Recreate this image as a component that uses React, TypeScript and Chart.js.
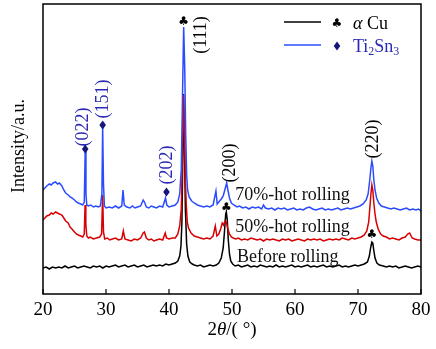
import { useEffect, useRef } from "react";
import { Chart, registerables } from "chart.js";

Chart.register(...registerables);

// ---- data: 2θ (degrees) and intensity (a.u.) ----
const blackTheta = [20.0,20.5,21.0,21.5,22.0,22.5,23.0,23.5,24.0,24.5,25.0,25.5,26.0,26.5,27.0,27.5,28.0,28.5,29.0,29.5,30.0,30.5,31.0,31.5,32.0,32.5,33.0,33.5,34.0,34.5,35.0,35.5,36.0,36.5,37.0,37.5,38.0,38.5,39.0,39.5,40.0,40.5,41.0,41.4,41.7,41.9,42.05,42.18,42.3,42.45,42.6,42.8,43.0,43.3,43.7,44.0,44.5,45.0,45.5,46.0,46.5,47.0,47.5,47.9,48.3,48.6,48.8,49.0,49.1,49.25,49.4,49.6,49.8,50.1,50.5,51.0,51.5,52.0,52.5,53.0,53.5,54.0,54.5,55.0,55.5,56.0,56.5,57.0,57.5,58.0,58.5,59.0,59.5,60.0,60.5,61.0,61.5,62.0,62.5,63.0,63.5,64.0,64.5,65.0,65.5,66.0,66.5,67.0,67.5,68.0,68.5,69.0,69.5,70.0,70.5,71.0,71.5,71.8,72.0,72.2,72.35,72.5,72.7,73.0,73.4,74.0,74.5,75.0,75.5,76.0,76.5,77.0,77.5,78.0,78.5,79.0,79.5,80.0];
const blackInt = [26,27,25,27,26,27,26,28,26,27,28,26,27,28,27,26,28,27,28,26,28,27,28,29,27,28,29,27,28,29,27,28,29,27,28,29,28,29,28,30,29,30,31,33,38,48,72,130,200,150,85,50,38,32,30,29,28,29,27,28,29,28,29,31,36,46,62,80,82,74,55,40,33,30,28,29,27,28,29,27,28,27,29,28,27,28,27,29,27,28,27,28,29,27,28,27,28,29,27,28,27,28,29,27,28,27,28,29,27,28,27,28,29,28,29,30,32,38,46,52,51,44,36,31,29,28,27,28,27,28,26,27,28,27,26,27,28,27];

const redTheta = [20.0,20.3,20.6,21.0,21.3,21.6,22.0,22.3,22.6,23.0,23.3,23.6,24.0,24.3,24.6,25.0,25.3,25.6,26.0,26.3,26.55,26.68,26.8,26.95,27.2,27.5,28.0,28.5,29.0,29.3,29.47,29.6,29.8,30.2,30.6,31.0,31.5,32.0,32.5,32.75,33.0,33.5,34.0,34.5,35.0,35.5,35.9,36.1,36.4,36.8,37.2,37.6,38.0,38.5,39.0,39.4,39.6,40.0,40.5,41.0,41.4,41.7,41.95,42.12,42.3,42.45,42.6,42.75,42.9,43.1,43.5,44.0,44.5,45.0,45.5,46.0,46.5,47.0,47.35,47.6,47.9,48.2,48.45,48.65,48.9,49.1,49.3,49.6,49.9,50.2,50.6,51.0,51.5,52.0,52.5,53.0,53.5,54.0,54.5,55.0,55.5,56.0,56.5,57.0,57.5,58.0,58.5,59.0,59.5,60.0,60.5,61.0,61.5,62.0,62.5,63.0,63.5,64.0,64.5,65.0,65.5,66.0,66.5,67.0,67.5,68.0,68.5,69.0,69.5,70.0,70.5,71.0,71.4,71.7,71.9,72.05,72.2,72.35,72.5,72.7,72.9,73.2,73.6,74.0,74.5,75.0,75.5,76.0,76.5,77.0,77.5,77.9,78.2,78.6,79.0,79.5,80.0];
const redInt = [74,76,78,79,81,80,82,81,80,79,76,73,71,67,65,62,60,59,58,57,60,89,70,58,56,57,55,56,57,60,99,62,55,56,54,55,56,54,55,63,55,54,53,55,54,56,61,62,56,54,55,53,54,55,54,61,56,55,56,56,60,68,85,135,199,165,115,88,72,66,61,58,57,56,55,56,55,58,68,58,60,65,71,69,73,72,66,60,57,56,55,56,54,55,54,56,55,54,55,53,55,54,55,54,53,55,54,55,53,54,55,54,53,55,54,55,54,55,53,54,55,54,55,54,56,55,54,56,55,56,57,59,63,72,88,100,109,104,92,80,72,65,60,58,57,55,56,55,54,56,57,60,61,56,55,54,54];

const blueTheta = [20.0,20.3,20.6,21.0,21.3,21.6,22.0,22.3,22.6,23.0,23.3,23.6,24.0,24.3,24.6,25.0,25.3,25.6,26.0,26.3,26.55,26.7,26.82,26.95,27.2,27.6,28.0,28.4,28.8,29.1,29.35,29.47,29.6,29.75,30.0,30.5,31.0,31.5,32.0,32.5,32.7,32.9,33.3,33.8,34.2,34.6,35.0,35.5,35.9,36.1,36.4,36.8,37.2,37.6,38.0,38.5,39.0,39.45,39.65,40.0,40.5,41.0,41.4,41.7,41.95,42.15,42.33,42.5,42.65,42.8,42.95,43.2,43.6,44.0,44.5,45.0,45.5,46.0,46.5,47.0,47.45,47.65,47.9,48.3,48.6,48.9,49.15,49.35,49.6,49.9,50.3,50.8,51.2,51.7,52.2,52.7,53.2,53.7,54.2,54.7,55.0,55.3,55.8,56.3,56.8,57.3,57.8,58.3,58.8,59.3,59.8,60.3,60.8,61.3,61.8,62.3,62.8,63.3,63.8,64.3,64.8,65.3,65.8,66.3,66.8,67.3,67.8,68.3,68.8,69.3,69.8,70.3,70.8,71.3,71.6,71.85,72.05,72.2,72.35,72.5,72.7,72.95,73.3,73.7,74.2,74.7,75.2,75.7,76.2,76.7,77.2,77.7,78.2,78.7,79.2,79.6,80.0];
const blueInt = [104,106,108,110,109,111,112,110,111,108,104,101,99,97,96,94,92,91,90,89,92,143,100,89,88,89,87,88,87,88,100,167,110,88,86,87,86,88,86,88,104,89,87,86,88,86,87,88,94,92,87,86,88,87,86,88,87,96,89,87,88,89,92,100,125,200,267,225,160,120,104,97,93,91,89,88,87,88,87,89,103,90,92,95,98,105,111,104,96,91,89,87,88,86,87,85,87,86,87,85,89,86,85,86,84,86,85,86,84,85,86,84,85,84,86,87,85,84,85,86,84,85,84,85,86,84,85,86,85,86,87,88,90,94,100,113,126,133,128,115,104,96,91,88,87,86,85,86,85,84,85,86,84,85,84,85,83];

const xTickValues = [20, 30, 40, 50, 60, 70, 80];

// peak annotations (Miller indices), centre of label in (2θ, intensity)
const hklLabels = ["(111)", "(022)", "(151)", "(202)", "(200)", "(220)"];
const hklTheta = [45.1, 26.35, 29.55, 39.65, 49.75, 72.4];
const hklInt = [259, 167, 195, 129, 131, 155];
const hklPhase = ["cu", "ti", "ti", "ti", "cu", "cu"];

// phase markers
const cuMarkTheta = [42.33, 49.1, 72.2];
const cuMarkInt = [272, 86, 59];
const tiMarkTheta = [26.7, 29.47, 39.6];
const tiMarkInt = [145, 169, 102];

// curve labels
const curveLabels = ["70%-hot rolling", "50%-hot rolling", "Before rolling"];
const curveLabelTheta = [50.5, 50.5, 50.8];
const curveLabelInt = [99, 67, 37];

const SERIF = "'Liberation Serif', 'Times New Roman', serif";
const BLUE_TXT = "#2a2ab4";
const NAVY = "#16167a";

function vText(ctx: CanvasRenderingContext2D, s: string, cx: number, cy: number, font: string, color: string) {
  ctx.save();
  ctx.translate(cx, cy);
  ctx.rotate(-Math.PI / 2);
  ctx.font = font;
  ctx.fillStyle = color;
  ctx.textAlign = "center";
  ctx.textBaseline = "middle";
  ctx.fillText(s, 0, 0);
  ctx.restore();
}

function club(ctx: CanvasRenderingContext2D, cx: number, cy: number) {
  ctx.save();
  ctx.font = "12px 'DejaVu Sans'";
  ctx.fillStyle = "#000";
  ctx.textAlign = "center";
  ctx.textBaseline = "middle";
  ctx.fillText("\u2663", cx, cy);
  ctx.restore();
}

function diamond(ctx: CanvasRenderingContext2D, cx: number, cy: number) {
  ctx.save();
  ctx.fillStyle = NAVY;
  ctx.beginPath();
  ctx.moveTo(cx, cy - 4.5);
  ctx.lineTo(cx + 3.3, cy);
  ctx.lineTo(cx, cy + 4.5);
  ctx.lineTo(cx - 3.3, cy);
  ctx.closePath();
  ctx.fill();
  ctx.restore();
}

function runs(ctx: CanvasRenderingContext2D, parts: { t: string; font: string; dy?: number }[], x: number, y: number, color: string, align: "left" | "center") {
  ctx.save();
  ctx.fillStyle = color;
  ctx.textBaseline = "middle";
  ctx.textAlign = "left";
  let total = 0;
  for (const p of parts) { ctx.font = p.font; total += ctx.measureText(p.t).width; }
  let cx = align === "center" ? x - total / 2 : x;
  for (const p of parts) {
    ctx.font = p.font;
    ctx.fillText(p.t, cx, y + (p.dy || 0));
    cx += ctx.measureText(p.t).width;
  }
  ctx.restore();
}

const overlay = {
  id: "overlay",
  afterDatasetsDraw(chart: any) {
    const { ctx, chartArea: a, scales } = chart;
    const xs = scales.x;
    const ys = scales.y;
    ctx.save();
    // frame
    ctx.strokeStyle = "#000";
    ctx.lineWidth = 1.5;
    ctx.strokeRect(a.left, a.top, a.right - a.left, a.bottom - a.top);
    // inward ticks
    ctx.lineWidth = 1.2;
    for (const t of xTickValues) {
      const px = xs.getPixelForValue(t);
      ctx.beginPath();
      ctx.moveTo(px, a.bottom);
      ctx.lineTo(px, a.bottom - 5);
      ctx.stroke();
    }
    // axis titles
    const f19 = `19px ${SERIF}`;
    runs(ctx, [
      { t: "2", font: f19 },
      { t: "\u03b8", font: `italic 19px ${SERIF}` },
      { t: "/( \u00b0)", font: f19 },
    ], (a.left + a.right) / 2, 330, "#000", "center");
    vText(ctx, "Intensity/a.u.", 19, (a.top + a.bottom) / 2 - 3, `18px ${SERIF}`, "#000");

    // hkl labels
    hklLabels.forEach((s, i) => {
      vText(ctx, s, xs.getPixelForValue(hklTheta[i]), ys.getPixelForValue(hklInt[i]), `18px ${SERIF}`,
        hklPhase[i] === "cu" ? "#000" : BLUE_TXT);
    });
    cuMarkTheta.forEach((t, i) => club(ctx, xs.getPixelForValue(t), ys.getPixelForValue(cuMarkInt[i])));
    tiMarkTheta.forEach((t, i) => diamond(ctx, xs.getPixelForValue(t), ys.getPixelForValue(tiMarkInt[i])));

    // curve labels
    ctx.font = `18px ${SERIF}`;
    ctx.fillStyle = "#111";
    ctx.textAlign = "left";
    ctx.textBaseline = "middle";
    curveLabels.forEach((s, i) => {
      ctx.fillText(s, xs.getPixelForValue(curveLabelTheta[i]), ys.getPixelForValue(curveLabelInt[i]));
    });

    // legend
    const lx0 = 284, lx1 = 321;
    ctx.lineWidth = 1.3;
    ctx.strokeStyle = "#000";
    ctx.beginPath(); ctx.moveTo(lx0, 22); ctx.lineTo(lx1, 22); ctx.stroke();
    ctx.strokeStyle = "#2a4cff";
    ctx.beginPath(); ctx.moveTo(lx0, 45); ctx.lineTo(lx1, 45); ctx.stroke();
    club(ctx, 337, 24);
    diamond(ctx, 337, 46);
    runs(ctx, [
      { t: "\u03b1", font: `italic 18px ${SERIF}` },
      { t: " Cu", font: `18px ${SERIF}` },
    ], 353, 24, "#000", "left");
    runs(ctx, [
      { t: "Ti", font: `18px ${SERIF}` },
      { t: "2", font: `12px ${SERIF}`, dy: 5 },
      { t: "Sn", font: `18px ${SERIF}` },
      { t: "3", font: `12px ${SERIF}`, dy: 5 },
    ], 353, 47, BLUE_TXT, "left");
    ctx.restore();
  },
};

export default function App() {
  const ref = useRef<HTMLCanvasElement | null>(null);
  useEffect(() => {
    if (!ref.current) return;
    const mk = (th: number[], v: number[]) => th.map((t, i) => ({ x: t, y: v[i] }));
    const chart = new Chart(ref.current, {
      type: "line",
      data: {
        datasets: [
          { label: "70%-hot rolling", data: mk(blueTheta, blueInt), borderColor: "#2a4cff", borderWidth: 1.5, pointRadius: 0, order: 1 },
          { label: "50%-hot rolling", data: mk(redTheta, redInt), borderColor: "#d80000", borderWidth: 1.5, pointRadius: 0, order: 2 },
          { label: "Before rolling", data: mk(blackTheta, blackInt), borderColor: "#000000", borderWidth: 1.5, pointRadius: 0, order: 3 },
        ],
      },
      options: {
        animation: false,
        responsive: false,
        layout: { padding: { left: 43, right: 15, top: 4, bottom: 0 } },
        plugins: { legend: { display: false }, tooltip: { enabled: false } },
        elements: { line: { tension: 0 } },
        scales: {
          x: {
            type: "linear",
            min: 20,
            max: 80,
            afterFit: (s: any) => { s.height = 55; },
            afterBuildTicks: (s: any) => { s.ticks = xTickValues.map((v) => ({ value: v })); },
            grid: { display: false, drawTicks: false },
            border: { display: false },
            ticks: { color: "#000", font: { family: SERIF, size: 19 }, padding: 5, maxRotation: 0 },
          },
          y: { type: "linear", min: 0, max: 290, display: false },
        },
      },
      plugins: [overlay],
    });
    return () => chart.destroy();
  }, []);
  return (
    <div style={{ position: "absolute", left: 0, top: 0, width: 436, height: 349, background: "#fff" }}>
      <canvas ref={ref} width={436} height={349} style={{ display: "block" }} />
    </div>
  );
}
